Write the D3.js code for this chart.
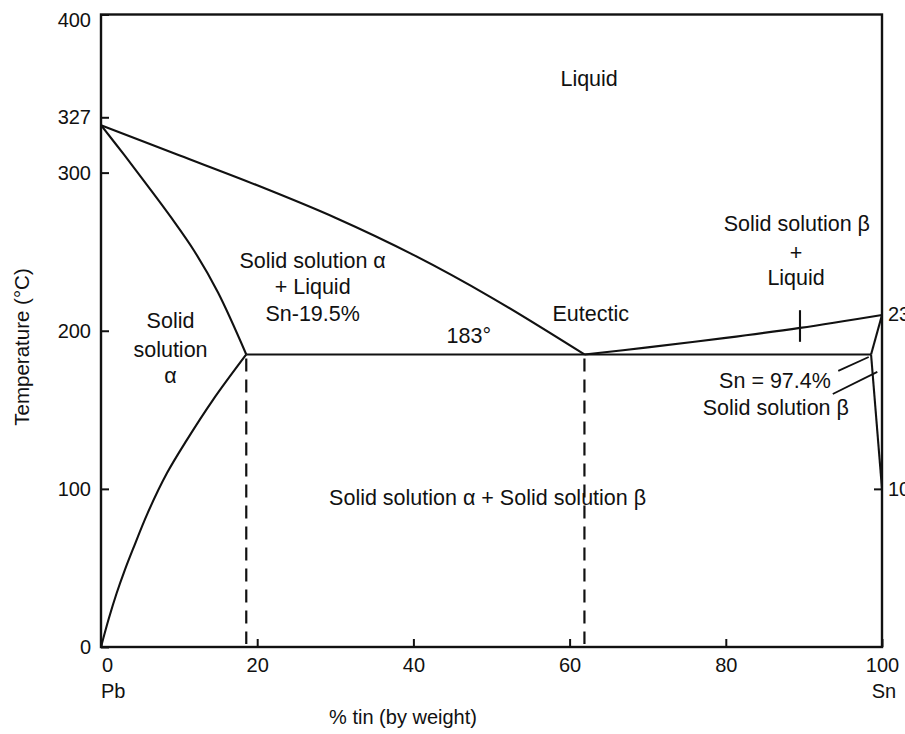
<!DOCTYPE html>
<html>
<head>
<meta charset="utf-8">
<script src="https://cdn.jsdelivr.net/npm/d3@7"></script>
<style>
  html, body { margin: 0; padding: 0; background: #fff; }
  svg { display: block; }
  text { font-family: "Liberation Sans", Arial, Helvetica, sans-serif; fill: #111; }
</style>
</head>
<body>
<svg id="chart" width="905" height="734"></svg>
<script>
// ---------- DATA (as drawn in the diagram: % tin by weight, temperature °C) ----------
const xTickValues = [0, 20, 40, 60, 80, 100];
const xTickLabels = ["0", "20", "40", "60", "80", "100"];
const yTickValues = [0, 100, 200, 300, 335, 400];
const yTickLabels = ["0", "100", "200", "300", "327", "400"];
const rightTickValues = [100];
const rightTickLabels = ["100"];

// Liquidus (Pb side) from Pb melting point down to the eutectic
const liquidusPb = [[0, 330], [10, 311], [20, 292], [30, 271.5], [40, 248], [50, 221], [61.9, 185]];
// Solidus of alpha solid solution
const solidusAlpha = [[0, 330], [3, 311], [6, 291.5], [9, 271.5], [12, 250], [15, 224], [18.6, 185]];
// Solvus of alpha solid solution
const solvusAlpha = [[0, 0], [1, 18], [2, 34], [3, 48], [4.1, 62], [6, 85], [8.45, 110], [11, 131], [14.3, 156], [18.6, 185]];
// Liquidus (Sn side)
const liquidusSn = [[61.9, 185], [70, 189.5], [80, 195.5], [89.5, 201.8], [100, 210]];
// Solidus and solvus of beta solid solution
const solidusBeta = [[98.6, 185], [100, 210]];
const solvusBeta = [[98.6, 185], [100, 100]];
// Eutectic isotherm
const eutecticLine = [[18.6, 185], [98.6, 185]];
// Dashed verticals (alpha limit and eutectic composition)
const dashedX = [18.6, 61.9];
const dashedTop = 185;
// Small cross mark on the Sn liquidus
const liquidusMark = [[89.5, 193], [89.5, 213]];
// Leader lines from the "Sn = 97.4%" note
const leaders = [
  [[94.4, 174.6], [98.3, 183.4]],
  [[93.7, 160], [99.4, 174]]
];

// Region labels: [text, x(%), temperature, anchor]
const labels = [
  ["Liquid", 62.5, 355, "middle"],
  ["Solid solution α", 27.1, 239.5, "middle"],
  ["+ Liquid", 27.1, 223.5, "middle"],
  ["Sn-19.5%", 27.1, 206, "middle"],
  ["Solid", 8.9, 201.5, "middle"],
  ["solution", 8.9, 183.5, "middle"],
  ["α", 8.9, 167, "middle"],
  ["183°", 47.1, 192.5, "middle"],
  ["Eutectic", 62.7, 206, "middle"],
  ["Solid solution β", 89.1, 263, "middle"],
  ["+", 89, 245, "middle"],
  ["Liquid", 89, 229, "middle"],
  ["Sn = 97.4%", 86.3, 164, "middle"],
  ["Solid solution β", 86.4, 146.5, "middle"],
  ["Solid solution α + Solid solution β", 49.5, 90, "middle"]
];
const sideNotes = [["232", 100, 206]];

// ---------- CHART ----------
const svg = d3.select("#chart");
const x = d3.scaleLinear().domain([0, 100]).range([101, 882]);
const y = d3.scaleLinear().domain([0, 400]).range([647, 14.5]);

const line = d3.line().x(d => x(d[0])).y(d => y(d[1]));
const smooth = d3.line().x(d => x(d[0])).y(d => y(d[1])).curve(d3.curveCatmullRom.alpha(0.5));

// Frame
svg.append("rect")
  .attr("x", x(0)).attr("y", y(400))
  .attr("width", x(100) - x(0)).attr("height", y(0) - y(400))
  .attr("fill", "none").attr("stroke", "#111").attr("stroke-width", 2.4);

const fontFam = '"Liberation Sans", Arial, sans-serif';

// Bottom axis (ticks inward)
const gx = svg.append("g").attr("transform", `translate(0,${y(0)})`)
  .call(d3.axisBottom(x).tickValues(xTickValues)
    .tickFormat((d, i) => xTickLabels[i]).tickSize(-8).tickPadding(11));
gx.select(".domain").remove();
gx.selectAll("line").attr("stroke", "#111").attr("stroke-width", 2);
gx.selectAll("text").attr("font-size", 20).attr("fill", "#111").style("font-family", fontFam);
gx.selectAll(".tick").filter((d) => d === 0).select("text").attr("x", 6);

// Left axis
const gy = svg.append("g").attr("transform", `translate(${x(0)},0)`)
  .call(d3.axisLeft(y).tickValues(yTickValues)
    .tickFormat((d, i) => yTickLabels[i]).tickSize(-8).tickPadding(10));
gy.select(".domain").remove();
gy.selectAll("line").attr("stroke", "#111").attr("stroke-width", 2);
gy.selectAll("text").attr("font-size", 20).attr("fill", "#111").style("font-family", fontFam);
gy.selectAll(".tick").filter(d => d === 400).select("text").attr("dy", "0.62em");

// Right axis (labels run off the page edge, as in the original scan)
const gr = svg.append("g").attr("transform", `translate(${x(100)},0)`)
  .call(d3.axisRight(y).tickValues(rightTickValues)
    .tickFormat((d, i) => rightTickLabels[i]).tickSize(-8).tickPadding(6));
gr.select(".domain").remove();
gr.selectAll("line").attr("stroke", "#111").attr("stroke-width", 2);
gr.selectAll("text").attr("font-size", 20).attr("fill", "#111").style("font-family", fontFam);

// Phase boundaries
const curves = svg.append("g").attr("fill", "none").attr("stroke", "#111")
  .attr("stroke-width", 2.1).attr("stroke-linejoin", "round");
[liquidusPb, solidusAlpha, solvusAlpha, liquidusSn].forEach(c => curves.append("path").attr("d", smooth(c)));
[solidusBeta, solvusBeta, eutecticLine, liquidusMark].forEach(c => curves.append("path").attr("d", line(c)));
leaders.forEach(c => curves.append("path").attr("d", line(c)).attr("stroke-width", 1.8));

// Dashed verticals
svg.append("g").selectAll("line").data(dashedX).join("line")
  .attr("x1", d => x(d)).attr("x2", d => x(d))
  .attr("y1", y(dashedTop) + 4).attr("y2", y(0) - 3)
  .attr("stroke", "#111").attr("stroke-width", 2.2)
  .attr("stroke-dasharray", "13,8");

// Region labels
svg.append("g").selectAll("text").data(labels).join("text")
  .attr("x", d => x(d[1])).attr("y", d => y(d[2]))
  .attr("text-anchor", d => d[3])
  .attr("font-size", 21.5)
  .text(d => d[0]);

// Side note at right axis (runs off the page edge, as in the original)
svg.append("g").selectAll("text").data(sideNotes).join("text")
  .attr("x", d => x(d[1]) + 6).attr("y", d => y(d[2]))
  .attr("font-size", 20)
  .text(d => d[0]);

// End labels under axis
svg.append("text").attr("x", x(0)).attr("y", 698).attr("font-size", 20).text("Pb");
svg.append("text").attr("x", x(100) + 2).attr("y", 698).attr("text-anchor", "middle").attr("font-size", 20).text("Sn");

// Axis titles
svg.append("text").attr("x", 403).attr("y", 724).attr("text-anchor", "middle")
  .attr("font-size", 20).text("% tin (by weight)");
svg.append("text").attr("transform", "translate(29,347) rotate(-90)")
  .attr("text-anchor", "middle").attr("font-size", 20.5).text("Temperature (°C)");
</script>
</body>
</html>
